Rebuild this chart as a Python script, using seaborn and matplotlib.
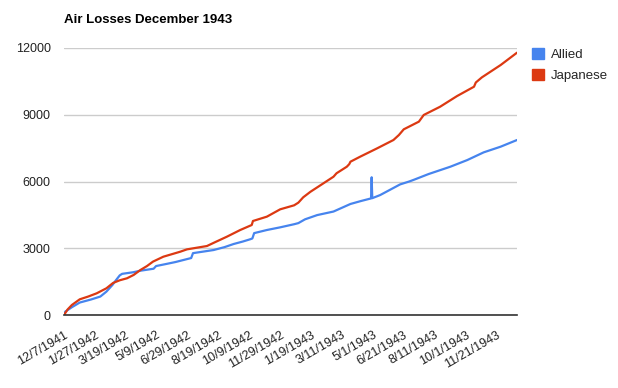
import matplotlib
matplotlib.use("Agg")
import matplotlib.pyplot as plt
from matplotlib.patches import Patch
import seaborn as sns
import pandas as pd

start_date = "1941-12-07"
allied_days = [0, 2, 13, 26, 45, 60, 70, 80, 84, 92, 96, 114, 126, 148, 152, 170, 184, 210, 213, 230,
               247, 265, 280, 295, 307, 311, 314, 335, 357, 380, 387, 398, 418, 445, 473, 490, 507,
               508, 509, 522, 555, 570, 578, 602, 638, 666, 693, 721, 748]
allied_vals = [0, 150, 350, 560, 700, 830, 1050, 1350, 1500, 1780, 1850, 1920, 1990, 2080, 2200, 2300,
               2380, 2560, 2780, 2850, 2920, 3050, 3190, 3300, 3400, 3440, 3680, 3820, 3940, 4080, 4130,
               4300, 4490, 4650, 4990, 5120, 5240, 6190, 5250, 5390, 5870, 6000, 6080, 6335, 6665, 6965,
               7310, 7565, 7865]
japanese_days = [0, 6, 13, 26, 40, 54, 70, 81, 92, 104, 115, 126, 137, 147, 164, 192, 203, 236, 250,
                 269, 291, 310, 312, 335, 357, 380, 387, 395, 407, 420, 445, 450, 467, 471, 473, 489,
                 517, 544, 553, 561, 586, 594, 621, 649, 677, 680, 690, 721, 748]
japanese_vals = [0, 250, 450, 705, 830, 975, 1200, 1440, 1560, 1650, 1800, 2020, 2200, 2400, 2620, 2845,
                 2950, 3100, 3280, 3520, 3820, 4045, 4225, 4420, 4750, 4930, 5050, 5290, 5540, 5770,
                 6215, 6370, 6665, 6780, 6890, 7115, 7490, 7865, 8090, 8345, 8690, 8990, 9360, 9840,
                 10260, 10450, 10680, 11235, 11790]
series_names = ["Allied", "Japanese"]
colors = ["#4684ee", "#dc3912"]
tick_labels = ["12/7/1941", "1/27/1942", "3/19/1942", "5/9/1942", "6/29/1942", "8/19/1942",
               "10/9/1942", "11/29/1942", "1/19/1943", "3/11/1943", "5/1/1943", "6/21/1943",
               "8/11/1943", "10/1/1943", "11/21/1943"]
y_ticks = [0, 3000, 6000, 9000, 12000]

t0 = pd.Timestamp(start_date)
df = pd.concat([
    pd.DataFrame({"date": [t0 + pd.Timedelta(days=d) for d in allied_days],
                  "value": allied_vals, "series": "Allied"}),
    pd.DataFrame({"date": [t0 + pd.Timedelta(days=d) for d in japanese_days],
                  "value": japanese_vals, "series": "Japanese"}),
])

sns.set_theme(style="white")
plt.rcParams['font.family'] = ['Liberation Sans', 'DejaVu Sans']

fig = plt.figure(figsize=(6.18, 3.88), dpi=100)
ax = fig.add_axes([64/618, 1-315/388, 453/618, (315-48)/388])
sns.lineplot(data=df, x="date", y="value", hue="series", hue_order=series_names,
             palette=colors, linewidth=1.6, ax=ax, legend=False, estimator=None)

ax.set_ylim(0, 12000)
ax.set_yticks(y_ticks)
ax.set_yticklabels([str(v) for v in y_ticks])
ax.set_xlim(df["date"].min(), df["date"].max())
tick_dates = [t0 + pd.Timedelta(days=51*i) for i in range(len(tick_labels))]
ax.set_xticks(tick_dates)
ax.set_xticklabels(tick_labels, rotation=30, ha="right", rotation_mode="anchor")
ax.grid(axis="y", color="#cccccc", linewidth=1)
ax.grid(axis="x", visible=False)
for s in ["left", "right", "top"]:
    ax.spines[s].set_visible(False)
ax.spines["bottom"].set_color("#333333")
ax.spines["bottom"].set_linewidth(1.2)
ax.tick_params(axis="both", length=0, labelsize=9, colors="#222222")
ax.tick_params(axis="x", pad=10)
ax.tick_params(axis="y", pad=9.5)
ax.set_xlabel("")
ax.set_ylabel("")

fig.text(64/618, 1-20/388, "Air Losses December 1943", fontsize=9.5, fontweight="bold",
         va="center", ha="left", color="black")

handles = [Patch(facecolor=c, edgecolor=c) for c in colors]
fig.legend(handles, series_names, loc="upper left", bbox_to_anchor=(527/618, 1-43/388),
           frameon=False, fontsize=9.5, handlelength=0.9, handleheight=0.9,
           handletextpad=0.5, labelspacing=0.55, borderaxespad=0)

fig.savefig("out.png", dpi=100)
